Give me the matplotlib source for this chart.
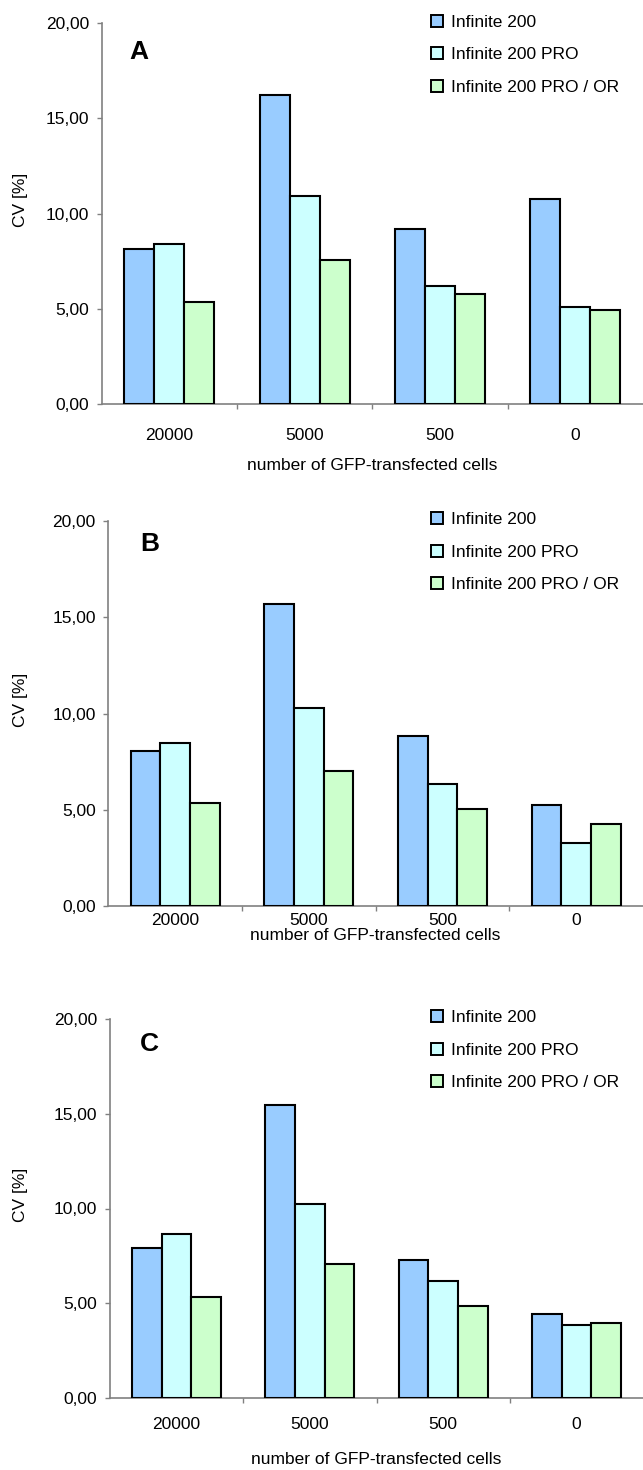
import matplotlib
matplotlib.use("Agg")
import matplotlib.pyplot as plt
import numpy as np
from matplotlib.ticker import FuncFormatter, FixedLocator

plt.rcParams['font.family'] = ['Liberation Sans', 'DejaVu Sans']

categories = ["20000", "5000", "500", "0"]
series_names = ["Infinite 200", "Infinite 200 PRO", "Infinite 200 PRO / OR"]
colors = ["#99CCFF", "#CCFFFF", "#CCFFCC"]

A_inf200 = [8.14, 16.24, 9.21, 10.76]
A_pro = [8.39, 10.95, 6.22, 5.11]
A_or = [5.38, 7.58, 5.76, 4.94]

B_inf200 = [8.05, 15.67, 8.83, 5.27]
B_pro = [8.48, 10.28, 6.34, 3.30]
B_or = [5.36, 7.05, 5.08, 4.29]

C_inf200 = [7.93, 15.48, 7.27, 4.43]
C_pro = [8.65, 10.22, 6.16, 3.87]
C_or = [5.33, 7.09, 4.87, 3.97]

panels = [
    ("A", [A_inf200, A_pro, A_or]),
    ("B", [B_inf200, B_pro, B_or]),
    ("C", [C_inf200, C_pro, C_or]),
]

W, H = 643, 1470
fig = plt.figure(figsize=(W / 100, H / 100), dpi=100)

# axes rects in pixels: left, top, zero-line y
rects = [
    (101.7, 23.3, 404.0),
    (108.3, 521.0, 906.4),
    (110.0, 1019.0, 1398.0),
]
letter_pos = [(0.069, 0.925), (0.078, 0.940), (0.073, 0.934)]
xtick_pad = [17, 5, 14]
xlabel_off = [62, 29, 62]
legend_rows = [20.7, 518.3, 1016.0]
ylabel_y = [200, 700, 1195]

fs = 12.5
bw = 1 / 4.5
x = np.arange(len(categories))
spine_col = "#808080"

for i, (letter, data) in enumerate(panels):
    lpx, tpx, zpx = rects[i]
    ax = fig.add_axes([lpx / W, 1 - zpx / H, 1 - lpx / W, (zpx - tpx) / H])
    handles = []
    for k, vals in enumerate(data):
        b = ax.bar(x + (k - 1) * bw, vals, width=bw, color=colors[k],
                   edgecolor="black", linewidth=1.5, label=series_names[k], zorder=3)
        handles.append(b)
    ax.set_xlim(-0.5, 3.5)
    ax.set_ylim(0, 20)
    ax.set_yticks([0, 5, 10, 15, 20])
    ax.yaxis.set_major_formatter(FuncFormatter(lambda v, p: f"{v:.2f}".replace(".", ",")))
    ax.tick_params(axis="y", direction="out", length=3.6, width=1, color=spine_col,
                   labelsize=fs, pad=5.5, labelcolor="black")
    ax.set_xticks(x)
    ax.set_xticklabels(categories)
    ax.tick_params(axis="x", which="major", length=0, labelsize=fs, pad=xtick_pad[i])
    ax.xaxis.set_minor_locator(FixedLocator([0.5, 1.5, 2.5]))
    ax.tick_params(axis="x", which="minor", direction="out", length=3.6, width=1,
                   color=spine_col)
    for s in ["top", "right"]:
        ax.spines[s].set_visible(False)
    for s in ["left", "bottom"]:
        ax.spines[s].set_color(spine_col)
        ax.spines[s].set_linewidth(1.2)
    ax.text(letter_pos[i][0], letter_pos[i][1], letter, transform=ax.transAxes,
            fontsize=19, fontweight="bold", ha="center", va="center")
    # x label
    fig.text((lpx + (W - lpx) / 2) / W, 1 - (zpx + xlabel_off[i]) / H,
             "number of GFP-transfected cells", fontsize=fs, ha="center", va="center")
    # y label
    fig.text(21 / W, 1 - ylabel_y[i] / H, "CV [%]", fontsize=fs, rotation=90,
             ha="center", va="center")
    # legend
    leg = fig.legend(handles=handles, labels=series_names, loc="upper left",
                     bbox_to_anchor=(430.7 / W, 1 - (legend_rows[i] - 6.0) / H),
                     bbox_transform=fig.transFigure, frameon=False, fontsize=fs,
                     handlelength=0.7, handleheight=0.7, handletextpad=0.45,
                     labelspacing=1.0, borderpad=0, borderaxespad=0)
    for p in leg.get_patches():
        p.set_linewidth(1.4)

fig.savefig("out.png", dpi=100)
